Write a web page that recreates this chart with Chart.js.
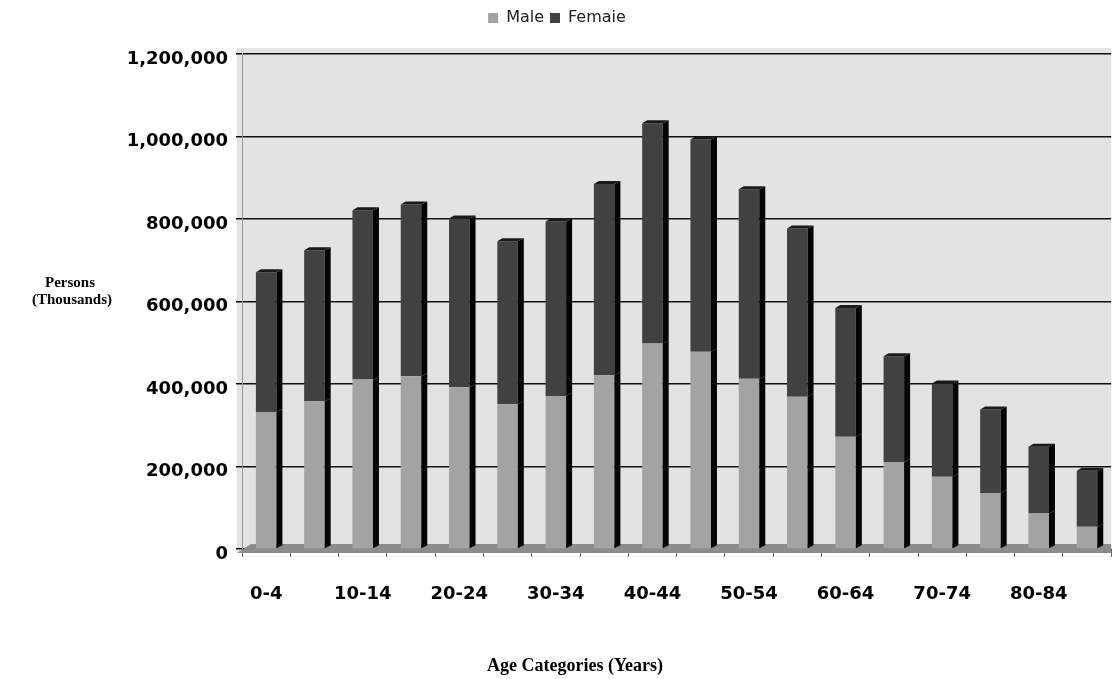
<!DOCTYPE html>
<html>
<head>
<meta charset="utf-8">
<script src="https://cdn.jsdelivr.net/npm/chart.js@4/dist/chart.umd.min.js"></script>
<style>
  html, body { margin: 0; padding: 0; background: #fff; }
  #wrap { width: 1114px; height: 679px; }
</style>
</head>
<body>
<div id="wrap"><canvas id="ageChart" width="1114" height="679"></canvas></div>
<script>
// age groups on the x axis, only every other one gets a label
const ageGroups = ['0-4', '5-9', '10-14', '15-19', '20-24', '25-29', '30-34', '35-39', '40-44',
                   '45-49', '50-54', '55-59', '60-64', '65-69', '70-74', '75-79', '80-84', '85+'];
const shownAgeLabels = ['0-4', '10-14', '20-24', '30-34', '40-44', '50-54', '60-64', '70-74', '80-84'];

// persons
const male = [332000, 358000, 411000, 419000, 392000, 351000, 371000, 421000, 498000,
              478000, 413000, 369000, 272000, 211000, 175000, 136000, 86000, 54000];
const female = [339000, 366000, 410000, 416000, 409000, 395000, 423000, 464000, 534000,
                515000, 459000, 408000, 312000, 256000, 226000, 202000, 162000, 136000];

const yTicks = [0, 200000, 400000, 600000, 800000, 1000000, 1200000];

const WALL = '#e3e3e3';
const FLOOR = '#8c8c8c';
const MALE_COLOR = '#a3a3a3';
const FEMALE_COLOR = '#414141';

// light back wall + floor strip, roughly like the old 3D office chart
const wallPlugin = {
    id: 'wall',
    beforeInit(chart) {
        // extra room under the legend
        const fit = chart.legend.fit;
        chart.legend.fit = function () {
            fit.bind(chart.legend)();
            this.height += 18;
        };
    },
    beforeDraw(chart) {
        const { ctx, chartArea: a } = chart;
        ctx.save();
        ctx.fillStyle = WALL;
        ctx.fillRect(a.left - 5, a.top - 6, a.right - a.left + 5, a.bottom - a.top + 10);
        ctx.restore();
    },
    beforeDatasetsDraw(chart) {
        const { ctx, chartArea: a } = chart;
        ctx.save();
        ctx.fillStyle = FLOOR;
        ctx.beginPath();
        ctx.moveTo(a.left - 5, a.bottom + 4);
        ctx.lineTo(a.left + 9, a.bottom - 5);
        ctx.lineTo(a.right, a.bottom - 5);
        ctx.lineTo(a.right, a.bottom + 4);
        ctx.closePath();
        ctx.fill();
        ctx.restore();
    }
};

// black right-hand side of each column to fake the depth
const sidePlugin = {
    id: 'sides',
    afterDatasetsDraw(chart) {
        const ctx = chart.ctx;
        const last = chart.data.datasets.length - 1;
        ctx.save();
        chart.data.datasets.forEach((ds, di) => {
            chart.getDatasetMeta(di).data.forEach(bar => {
                const right = bar.x + bar.width / 2;
                ctx.fillStyle = '#050505';
                ctx.beginPath();
                ctx.moveTo(right, bar.base);
                ctx.lineTo(right, bar.y);
                ctx.lineTo(right + 6, bar.y - 3);
                ctx.lineTo(right + 6, bar.base - 3);
                ctx.closePath();
                ctx.fill();
                if (di === last) {
                    ctx.fillStyle = '#1a1a1a';
                    ctx.beginPath();
                    ctx.moveTo(bar.x - bar.width / 2, bar.y);
                    ctx.lineTo(bar.x - bar.width / 2 + 5, bar.y - 3);
                    ctx.lineTo(right + 6, bar.y - 3);
                    ctx.lineTo(right, bar.y);
                    ctx.closePath();
                    ctx.fill();
                }
            });
        });
        ctx.restore();
    }
};

// both axis titles sit horizontally, in a serif face
const titlesPlugin = {
    id: 'titles',
    afterDraw(chart) {
        const ctx = chart.ctx;
        ctx.save();
        ctx.fillStyle = '#000';
        ctx.textAlign = 'center';
        ctx.textBaseline = 'middle';
        ctx.font = 'bold 15px "Liberation Serif", "Times New Roman", serif';
        ctx.fillText('Persons', 70, 283);
        ctx.fillText('(Thousands)', 72, 300);
        ctx.font = 'bold 18px "Liberation Serif", "Times New Roman", serif';
        ctx.fillText('Age Categories (Years)', 575, 666);
        ctx.restore();
    }
};

const ctx = document.getElementById('ageChart').getContext('2d');
new Chart(ctx, {
    type: 'bar',
    data: {
        labels: ageGroups,
        datasets: [
            { label: 'Male', data: male, backgroundColor: MALE_COLOR },
            { label: 'Femaie', data: female, backgroundColor: FEMALE_COLOR }
        ]
    },
    options: {
        responsive: false,
        animation: false,
        layout: { padding: { left: 0, right: 0, top: 4, bottom: 0 } },
        datasets: { bar: { barPercentage: 0.85, categoryPercentage: 0.5 } },
        plugins: {
            legend: {
                position: 'top',
                labels: {
                    boxWidth: 10,
                    boxHeight: 10,
                    padding: 6,
                    color: '#222',
                    font: { family: '"DejaVu Sans", Verdana, sans-serif', size: 16 }
                }
            },
            tooltip: { enabled: false }
        },
        scales: {
            x: {
                stacked: true,
                grid: { drawOnChartArea: false, tickLength: 8, color: '#666' },
                border: { color: '#333', width: 1 },
                ticks: {
                    autoSkip: false,
                    maxRotation: 0,
                    padding: 27,
                    color: '#000',
                    font: { family: '"DejaVu Sans", Verdana, sans-serif', size: 18, weight: 'bold' },
                    callback: (v, i) => shownAgeLabels.includes(ageGroups[i]) ? ageGroups[i] : ''
                },
                afterFit: s => { s.height = 130; }
            },
            y: {
                stacked: true,
                min: 0,
                max: 1200000,
                afterBuildTicks: s => { s.ticks = yTicks.map(v => ({ value: v })); },
                ticks: {
                    labelOffset: 5,
                    padding: 8,
                    color: '#000',
                    font: { family: '"DejaVu Sans", Verdana, sans-serif', size: 18, weight: 'bold' },
                    callback: v => v.toLocaleString('en-US')
                },
                grid: { color: '#111', lineWidth: 1.5, tickLength: 6 },
                border: { color: '#999' },
                afterFit: s => { s.width = 242; }
            }
        }
    },
    plugins: [wallPlugin, sidePlugin, titlesPlugin]
});
</script>
</body>
</html>
